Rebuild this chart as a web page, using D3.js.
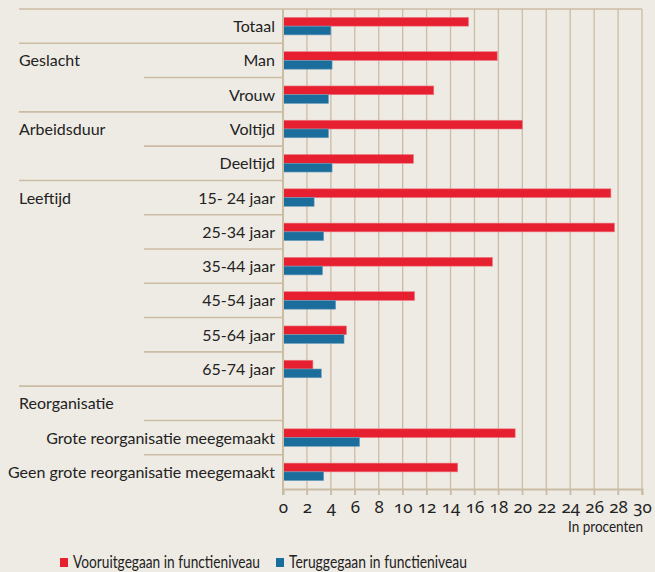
<!DOCTYPE html>
<html>
<head>
<meta charset="utf-8">
<script src="https://cdn.jsdelivr.net/npm/d3@7"></script>
<style>
  body { margin: 0; background: #eeebe4; }
  svg { display: block; font-family: Lato, "Noto Sans", sans-serif; }
  .tick text { font-family: "Noto Sans", sans-serif; font-feature-settings: "onum" 1; font-variant-numeric: oldstyle-nums; }
</style>
</head>
<body>
<div id="chart"></div>
<script>
const width = 655, height = 572;
const margin = {top: 9, right: 13, bottom: 83, left: 283};

// data
const rowLabels = ["Totaal", "Man", "Vrouw", "Voltijd", "Deeltijd",
  "15- 24 jaar", "25-34 jaar", "35-44 jaar", "45-54 jaar", "55-64 jaar", "65-74 jaar",
  "", "Grote reorganisatie meegemaakt", "Geen grote reorganisatie meegemaakt"];
const vooruit = [15.5, 17.9, 12.6, 20.0, 10.9, 27.4, 27.7, 17.5, 11.0, 5.3, 2.5, null, 19.4, 14.6];
const terug   = [4.0, 4.1, 3.8, 3.8, 4.1, 2.6, 3.4, 3.3, 4.4, 5.1, 3.2, null, 6.4, 3.4];
const groupLabels = ["Geslacht", "Arbeidsduur", "Leeftijd", "Reorganisatie"];
const groupStart  = [1, 3, 5, 11];
const seriesNames = ["Vooruitgegaan in functieniveau", "Teruggegaan in functieniveau"];
const seriesColors = ["#e62030", "#1b6d9c"];
const xTicks = d3.range(0, 31, 2);

const gridColor = "#cbbca4";

const svg = d3.select("#chart").append("svg")
  .attr("width", width).attr("height", height);

const x = d3.scaleLinear().domain([0, 30]).range([margin.left, width - margin.right]);
const y = d3.scaleBand().domain(d3.range(rowLabels.length))
  .range([margin.top, height - margin.bottom]);
const bw = y.bandwidth();
const ySub = d3.scaleBand().domain([0, 1]).range([bw * 0.245, bw * 0.755]);

// grid lines
svg.append("g").selectAll("line").data(xTicks.slice(1))
  .join("line")
  .attr("x1", d => x(d)).attr("x2", d => x(d))
  .attr("y1", margin.top).attr("y2", height - margin.bottom + 6)
  .attr("stroke", gridColor).attr("stroke-width", 1.3);

// row separator lines on the left
const lineRows = d3.range(rowLabels.length);
svg.append("g").selectAll("line").data(lineRows)
  .join("line")
  .attr("x1", i => (i === 0 || groupStart.includes(i)) ? 19 : 144)
  .attr("x2", margin.left)
  .attr("y1", i => y(i)).attr("y2", i => y(i))
  .attr("stroke", gridColor).attr("stroke-width", 1.6);

// top border
svg.append("line")
  .attr("x1", margin.left).attr("x2", width - margin.right)
  .attr("y1", margin.top).attr("y2", margin.top)
  .attr("stroke", gridColor).attr("stroke-width", 1.6);

// bars
const series = [vooruit, terug];
series.forEach((vals, s) => {
  svg.append("g").selectAll("rect")
    .data(vals.map((v, i) => ({v, i})).filter(d => d.v !== null))
    .join("rect")
    .attr("x", x(0))
    .attr("y", d => y(d.i) + ySub(s))
    .attr("width", d => x(d.v) - x(0))
    .attr("height", ySub.bandwidth())
    .attr("fill", seriesColors[s])
    .attr("stroke", s === 0 ? "#ee7a82" : "#6d9dbb")
    .attr("stroke-width", 0.6);
});

// left axis line
svg.append("line")
  .attr("x1", margin.left).attr("x2", margin.left)
  .attr("y1", margin.top).attr("y2", height - margin.bottom + 6)
  .attr("stroke", gridColor).attr("stroke-width", 2);

// x axis
const xAxis = svg.append("g")
  .attr("transform", `translate(0,${height - margin.bottom})`)
  .call(d3.axisBottom(x).tickValues(xTicks).tickSize(6).tickPadding(6));
xAxis.select(".domain").attr("stroke", gridColor).attr("stroke-width", 2);
xAxis.selectAll(".tick line").attr("stroke", gridColor).attr("stroke-width", 1.3);
xAxis.selectAll(".tick text")
  .attr("fill", "#222").style("font-size", "17px");

svg.append("text")
  .attr("x", width - 12).attr("y", 532)
  .attr("text-anchor", "end")
  .style("font-size", "15px").attr("fill", "#222")
  .attr("textLength", 75).attr("lengthAdjust", "spacingAndGlyphs")
  .text("In procenten");

// category labels
svg.append("g").selectAll("text").data(rowLabels)
  .join("text")
  .attr("x", margin.left - 8)
  .attr("y", (d, i) => y(i) + bw / 2 + 6)
  .attr("text-anchor", "end")
  .style("font-size", "16px").attr("fill", "#222")
  .text(d => d);

// group labels
svg.append("g").selectAll("text").data(groupLabels)
  .join("text")
  .attr("x", 19)
  .attr("y", (d, k) => y(groupStart[k]) + bw / 2 + 6)
  .style("font-size", "16px").attr("fill", "#222")
  .text(d => d);

// legend
const legendX = [60, 276];
const legendW = [187, 178];
const legend = svg.append("g");
seriesNames.forEach((name, s) => {
  legend.append("rect")
    .attr("x", legendX[s]).attr("y", 558)
    .attr("width", 8).attr("height", 9)
    .attr("fill", seriesColors[s]);
  legend.append("text")
    .attr("x", legendX[s] + 13).attr("y", 568)
    .style("font-size", "18px").attr("fill", "#222")
    .attr("textLength", legendW[s]).attr("lengthAdjust", "spacingAndGlyphs")
    .text(name);
});
</script>
</body>
</html>
